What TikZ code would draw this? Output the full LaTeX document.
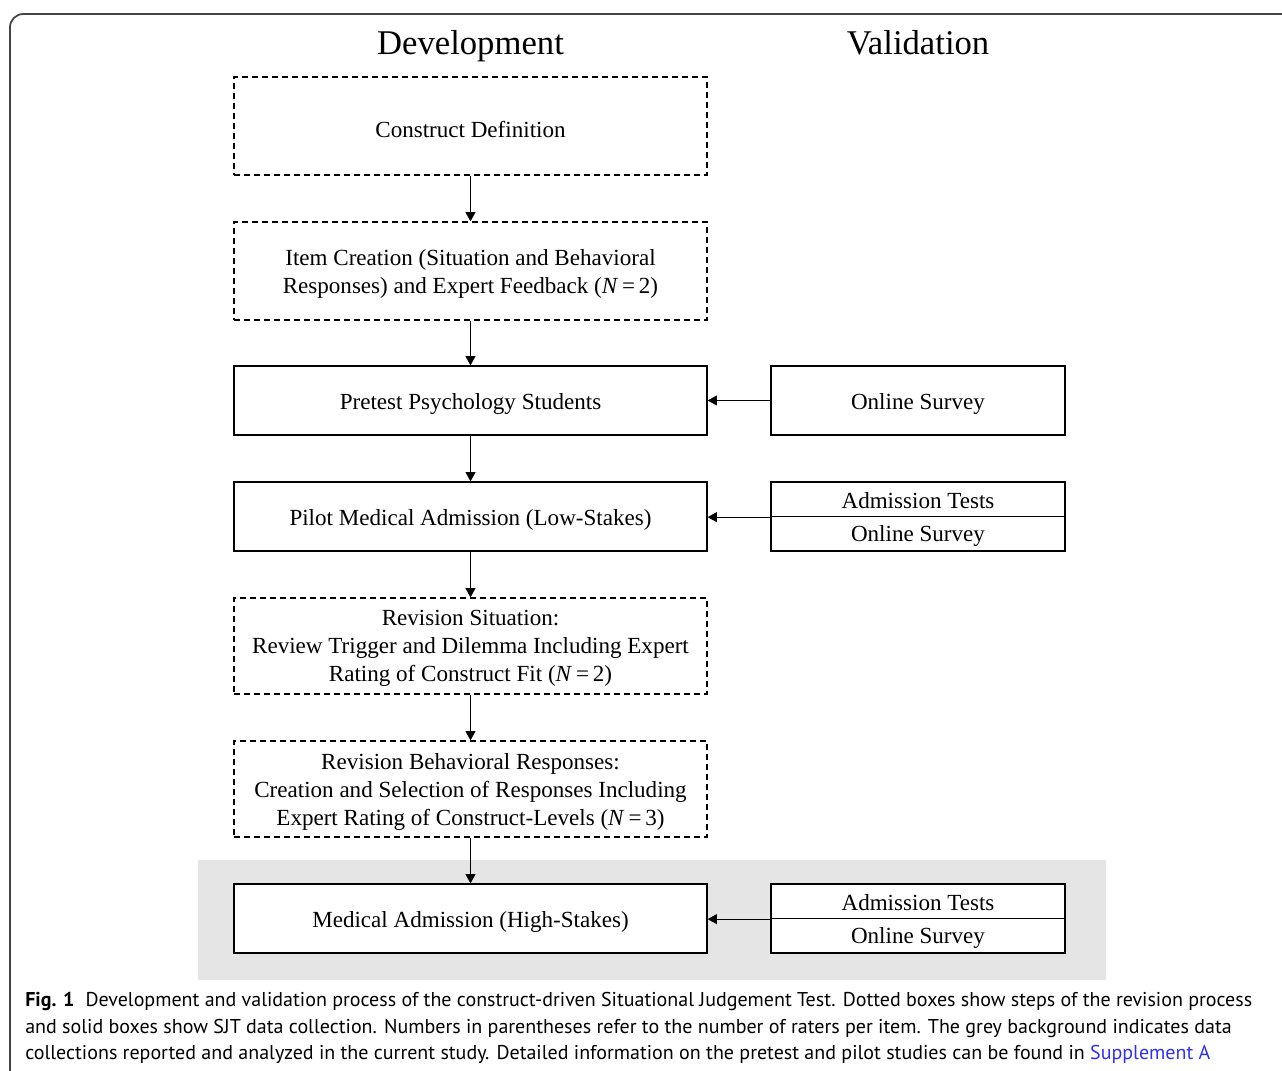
\documentclass[tikz,border=0pt]{standalone}
\usepackage{fontspec}
\setmainfont{Liberation Serif}
\newfontfamily\capfont{PT Sans}
\usetikzlibrary{arrows.meta}
\definecolor{bggrey}{HTML}{E5E5E5}
\definecolor{frame}{HTML}{444444}
\definecolor{linkblue}{HTML}{3030F0}
\tikzset{
  box/.style={draw=black, line width=0.95pt, fill=white, minimum width=354.75pt, inner sep=0pt},
  dbox/.style={box, dash pattern=on 4.5pt off 3pt},
  sbox/.style={draw=black, line width=0.95pt, fill=white, minimum width=220.5pt, minimum height=25.875pt, inner sep=0pt},
  txt/.style={align=center, inner sep=0pt, font=\fontsize{17.3}{21}\selectfont},
  arr/.style={line width=0.75pt, -{Triangle[length=7pt,width=7.5pt]}},
  ttl/.style={anchor=base, inner sep=0pt, font=\fontsize{26}{30}\selectfont},
}
\newcommand{\NN}[1]{(\textit{N}\,=\,#1)}
\begin{document}
\begin{tikzpicture}[x=0.75pt,y=-0.75pt]
\useasboundingbox (0,0) rectangle (1282,1071);
\draw[frame, line width=1.3pt, rounded corners=10pt] (10,1100) -- (10,14) -- (1300,14);
\fill[bggrey] (198,860) rectangle (1106,980);

\node[ttl] (tdev) at (470.5,54.5) {Development};
\node[ttl] (tval) at (918,54.5) {Validation};

\node[dbox, minimum height=73.5pt] (b1) at (470.5,126) {};
\node[dbox, minimum height=73.5pt] (b2) at (470.5,271) {};
\node[box, minimum height=51.75pt] (b3) at (470.5,400.5) {};
\node[box, minimum height=51.75pt] (b4) at (470.5,516.5) {};
\node[dbox, minimum height=72pt] (b5) at (470.5,646) {};
\node[dbox, minimum height=72pt] (b6) at (470.5,789) {};
\node[box, minimum height=51.75pt] (b7) at (470.5,918.5) {};

\node[txt] (b1t) at ([yshift=-2.3pt]b1.center) {Construct Definition};
\node[txt] (b2t) at ([yshift=-2pt]b2.center) {Item Creation (Situation and Behavioral\\Responses) and Expert Feedback \NN{2}};
\node[txt] (b3t) at ([yshift=-2.5pt]b3.center) {Pretest Psychology Students};
\node[txt] (b4t) at ([yshift=-2.3pt]b4.center) {Pilot Medical Admission (Low-Stakes)};
\node[txt] (b5t) at ([yshift=-2pt]b5.center) {Revision Situation:\\Review Trigger and Dilemma Including Expert\\Rating of Construct Fit \NN{2}};
\node[txt] (b6t) at ([yshift=-2pt]b6.center) {Revision Behavioral Responses:\\Creation and Selection of Responses Including\\Expert Rating of Construct-Levels \NN{3}};
\node[txt] (b7t) at ([yshift=-2.3pt]b7.center) {Medical Admission (High-Stakes)};

\node[box, minimum width=220.5pt, minimum height=51.75pt] (v1) at (918,400.5) {};
\node[txt] (v1t) at ([yshift=-2.5pt]v1.center) {Online Survey};
\node[sbox] (v2a) at (918,499.25) {};
\node[sbox] (v2b) at (918,533.75) {};
\node[sbox] (v3a) at (918,901.25) {};
\node[sbox] (v3b) at (918,935.75) {};
\node[txt] (v2at) at ([yshift=-1.2pt]v2a.center) {Admission Tests};
\node[txt] (v2bt) at ([yshift=-1.6pt]v2b.center) {Online Survey};
\node[txt] (v3at) at ([yshift=-1.2pt]v3a.center) {Admission Tests};
\node[txt] (v3bt) at ([yshift=-1.6pt]v3b.center) {Online Survey};

\draw[arr] (b1) -- (b2);
\draw[arr] (b2) -- (b3);
\draw[arr] (b3) -- (b4);
\draw[arr] (b4) -- (b5);
\draw[arr] (b5) -- (b6);
\draw[arr] (b6) -- (b7);
\draw[arr] (v1) -- (b3);
\draw[arr] (v2a.south west) -- (v2a.south west -| b4.east);
\draw[arr] (v3a.south west) -- (v3a.south west -| b7.east);

\node[anchor=north west, align=left, inner sep=0pt, font=\capfont\fontsize{15}{20}\selectfont] (cap) at (25,992)
{\textbf{Fig. 1}\hspace{0.55em}Development and validation process of the construct-driven Situational Judgement Test. Dotted boxes show steps of the revision process\\
and solid boxes show SJT data collection. Numbers in parentheses refer to the number of raters per item. The grey background indicates data\\
collections reported and analyzed in the current study. Detailed information on the pretest and pilot studies can be found in \textcolor{linkblue}{Supplement A}};
\end{tikzpicture}
\end{document}
